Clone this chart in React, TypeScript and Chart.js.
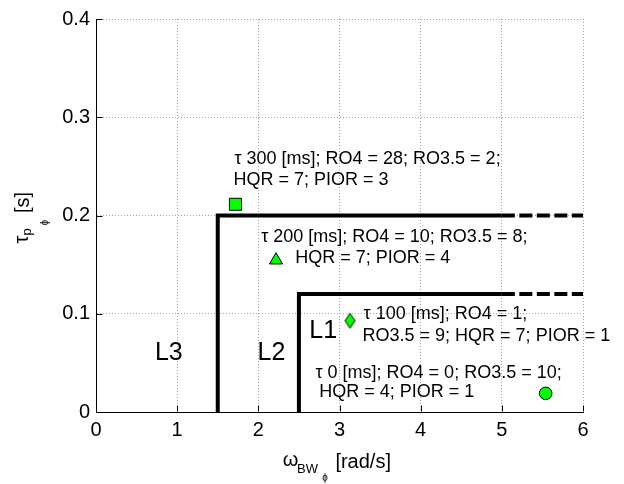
import { useEffect, useRef } from 'react';
import { Chart, registerables } from 'chart.js';

Chart.register(...registerables);

// Axis ticks
const xTicks = [0, 1, 2, 3, 4, 5, 6];
const yTicks = [0, 0.1, 0.2, 0.3, 0.4];
const xTickLabels = ['0', '1', '2', '3', '4', '5', '6'];
const yTickLabels = ['0', '0.1', '0.2', '0.3', '0.4'];

// Level boundaries: solid up to x = 5, dashed extension to x = 6
const l1BoundaryX = [2.5, 2.5, 5, 6];
const l1BoundaryY = [0, 0.12, 0.12, 0.12];
const l2BoundaryX = [1.5, 1.5, 5, 6];
const l2BoundaryY = [0, 0.2, 0.2, 0.2];
const dashedFromIndex = 2;

// Test cases (time delay variants)
const caseDelayMs = [300, 200, 100, 0];
const caseBandwidth = [1.718, 2.218, 3.129, 5.54];
const casePhaseDelay = [0.2114, 0.1545, 0.0929, 0.019];
const caseRO4 = [28, 10, 1, 0];
const caseRO35 = [2, 8, 9, 10];
const caseHQR = [7, 7, 7, 4];
const casePIOR = [3, 4, 1, 1];
const caseFirstLineFields = [3, 3, 2, 3];

const regionNames = ['L1', 'L2', 'L3'];

// ---- layout / style ----
const FONT = "'Liberation Sans', Arial, Helvetica, sans-serif";
const GREEN = '#00ff00';
const GRID = '#a8a8a8';
const markerStyles = ['rect', 'triangle', 'diamond', 'circle'];
const markerRadius = [8.5, 7.5, 7, 6.3];
// label anchors in data units: [x, y] (left edge, vertical middle)
const caseLine1At = [[1.705, 0.2575], [2.035, 0.1781], [3.296, 0.0997], [2.704, 0.0392]];
const caseLine2At = [[1.695, 0.2366], [2.455, 0.1567], [3.284, 0.0774], [2.751, 0.0204]];
const regionAt = [[2.627, 0.0824], [1.99, 0.06], [0.726, 0.06]];

function caseLines(i: number): [string, string] {
  const fields = [
    `τ ${caseDelayMs[i]} [ms]`,
    `RO4 = ${caseRO4[i]}`,
    `RO3.5 = ${caseRO35[i]}`,
    `HQR = ${caseHQR[i]}`,
    `PIOR = ${casePIOR[i]}`,
  ];
  const n = caseFirstLineFields[i];
  return [fields.slice(0, n).join('; ') + ';', fields.slice(n).join('; ')];
}

function diamondImage(): HTMLCanvasElement {
  const c = document.createElement('canvas');
  c.width = 13;
  c.height = 18;
  const g = c.getContext('2d')!;
  g.beginPath();
  g.moveTo(6.5, 1.5);
  g.lineTo(11.5, 9);
  g.lineTo(6.5, 16.5);
  g.lineTo(1.5, 9);
  g.closePath();
  g.fillStyle = GREEN;
  g.fill();
  g.strokeStyle = '#000';
  g.lineWidth = 1;
  g.stroke();
  return c;
}

function boundary(xs: number[], ys: number[]) {
  return {
    type: 'line' as const,
    data: xs.map((x, i) => ({ x, y: ys[i] })),
    borderColor: '#000',
    borderWidth: 4,
    borderCapStyle: 'butt',
    borderJoinStyle: 'miter',
    pointRadius: 0,
    fill: false,
    tension: 0,
    segment: {
      borderDash: (ctx: any) => (ctx.p0DataIndex >= dashedFromIndex ? [13, 4.5] : []),
    },
  };
}

const annotations = {
  id: 'annotations',
  afterDatasetsDraw(chart: any) {
    const { ctx, chartArea: a, scales } = chart;
    const x = scales.x;
    const y = scales.y;
    ctx.save();

    // inward tick marks
    ctx.strokeStyle = '#000';
    ctx.lineWidth = 1;
    ctx.beginPath();
    const left = Math.round(a.left) + 0.5;
    const bottom = Math.round(a.bottom) - 0.5;
    for (const v of yTicks) {
      const py = Math.round(y.getPixelForValue(v)) + 0.5;
      ctx.moveTo(left, py);
      ctx.lineTo(left + 6, py);
    }
    for (const v of xTicks) {
      const px = Math.round(x.getPixelForValue(v)) + 0.5;
      ctx.moveTo(px, bottom);
      ctx.lineTo(px, bottom - 6);
    }
    ctx.stroke();

    ctx.fillStyle = '#000';
    ctx.textAlign = 'left';
    ctx.textBaseline = 'middle';

    // case descriptions
    ctx.font = `18px ${FONT}`;
    caseDelayMs.forEach((_, i) => {
      const [l1, l2] = caseLines(i);
      ctx.fillText(l1, x.getPixelForValue(caseLine1At[i][0]), y.getPixelForValue(caseLine1At[i][1]));
      ctx.fillText(l2, x.getPixelForValue(caseLine2At[i][0]), y.getPixelForValue(caseLine2At[i][1]));
    });

    // region names
    ctx.font = `25px ${FONT}`;
    regionNames.forEach((name, i) => {
      ctx.fillText(name, x.getPixelForValue(regionAt[i][0]), y.getPixelForValue(regionAt[i][1]));
    });

    // axis titles
    ctx.textBaseline = 'alphabetic';
    const cx = (a.left + a.right) / 2;
    const b = a.bottom;
    const xt: [string, number, number, number][] = [
      ['ω', 20, -56.7, 53.5],
      ['BW', 13, -42.5, 61.3],
      ['ϕ', 10, -17.3, 69],
      ['[rad/s]', 20, -4.1, 56.3],
    ];
    for (const [t, size, dx, dy] of xt) {
      ctx.font = `${size}px ${FONT}`;
      ctx.fillText(t, cx + dx, b + dy);
    }

    const cy = (a.top + a.bottom) / 2;
    const yt: [string, number, number, number][] = [
      ['τ', 20, 28.3, 28],
      ['p', 13, 30.8, 20],
      ['ϕ', 10, 48, 10],
      ['[s]', 20, 28.7, -2.5],
    ];
    for (const [t, size, sx, dy] of yt) {
      ctx.save();
      ctx.font = `${size}px ${FONT}`;
      ctx.translate(sx, cy + dy);
      ctx.rotate(-Math.PI / 2);
      ctx.fillText(t, 0, 0);
      ctx.restore();
    }

    ctx.restore();
  },
};

export default function App() {
  const canvasRef = useRef<HTMLCanvasElement | null>(null);

  useEffect(() => {
    if (!canvasRef.current) return;
    const diamond = diamondImage();
    const chart = new Chart(canvasRef.current, {
      type: 'scatter',
      data: {
        datasets: [
          boundary(l1BoundaryX, l1BoundaryY) as any,
          boundary(l2BoundaryX, l2BoundaryY) as any,
          {
            type: 'scatter',
            data: caseBandwidth.map((x, i) => ({ x, y: casePhaseDelay[i] })),
            pointStyle: markerStyles.map((m) => (m === 'diamond' ? diamond : m)) as any,
            pointRadius: markerRadius,
            backgroundColor: GREEN,
            borderColor: '#000',
            borderWidth: 1,
          },
        ],
      },
      options: {
        responsive: false,
        animation: false,
        layout: { padding: { top: 19, right: 41, bottom: 0, left: 0 } },
        plugins: { legend: { display: false }, tooltip: { enabled: false } },
        scales: {
          x: {
            type: 'linear',
            min: 0,
            max: 6,
            afterBuildTicks: (s: any) => {
              s.ticks = xTicks.map((value) => ({ value }));
            },
            afterFit: (s: any) => {
              s.height = 72;
            },
            grid: { color: GRID, lineWidth: 1, drawTicks: false },
            border: { display: true, color: '#000', width: 1, dash: [1, 2] },
            ticks: {
              font: { family: FONT, size: 20 },
              color: '#000',
              padding: 6,
              maxRotation: 0,
              autoSkip: false,
              callback: (_v: any, i: number) => xTickLabels[i],
            },
          },
          y: {
            type: 'linear',
            min: 0,
            max: 0.4,
            afterBuildTicks: (s: any) => {
              s.ticks = yTicks.map((value) => ({ value }));
            },
            afterFit: (s: any) => {
              s.width = 96;
            },
            grid: { color: GRID, lineWidth: 1, drawTicks: false },
            border: { display: true, color: '#000', width: 1, dash: [1, 2] },
            ticks: {
              font: { family: FONT, size: 20 },
              color: '#000',
              padding: 6,
              autoSkip: false,
              callback: (_v: any, i: number) => yTickLabels[i],
            },
          },
        },
      },
      plugins: [annotations],
    });
    return () => chart.destroy();
  }, []);

  return (
    <div style={{ position: 'fixed', left: 0, top: 0, width: 624, height: 484, background: '#fff' }}>
      <canvas ref={canvasRef} width={624} height={484} />
    </div>
  );
}
